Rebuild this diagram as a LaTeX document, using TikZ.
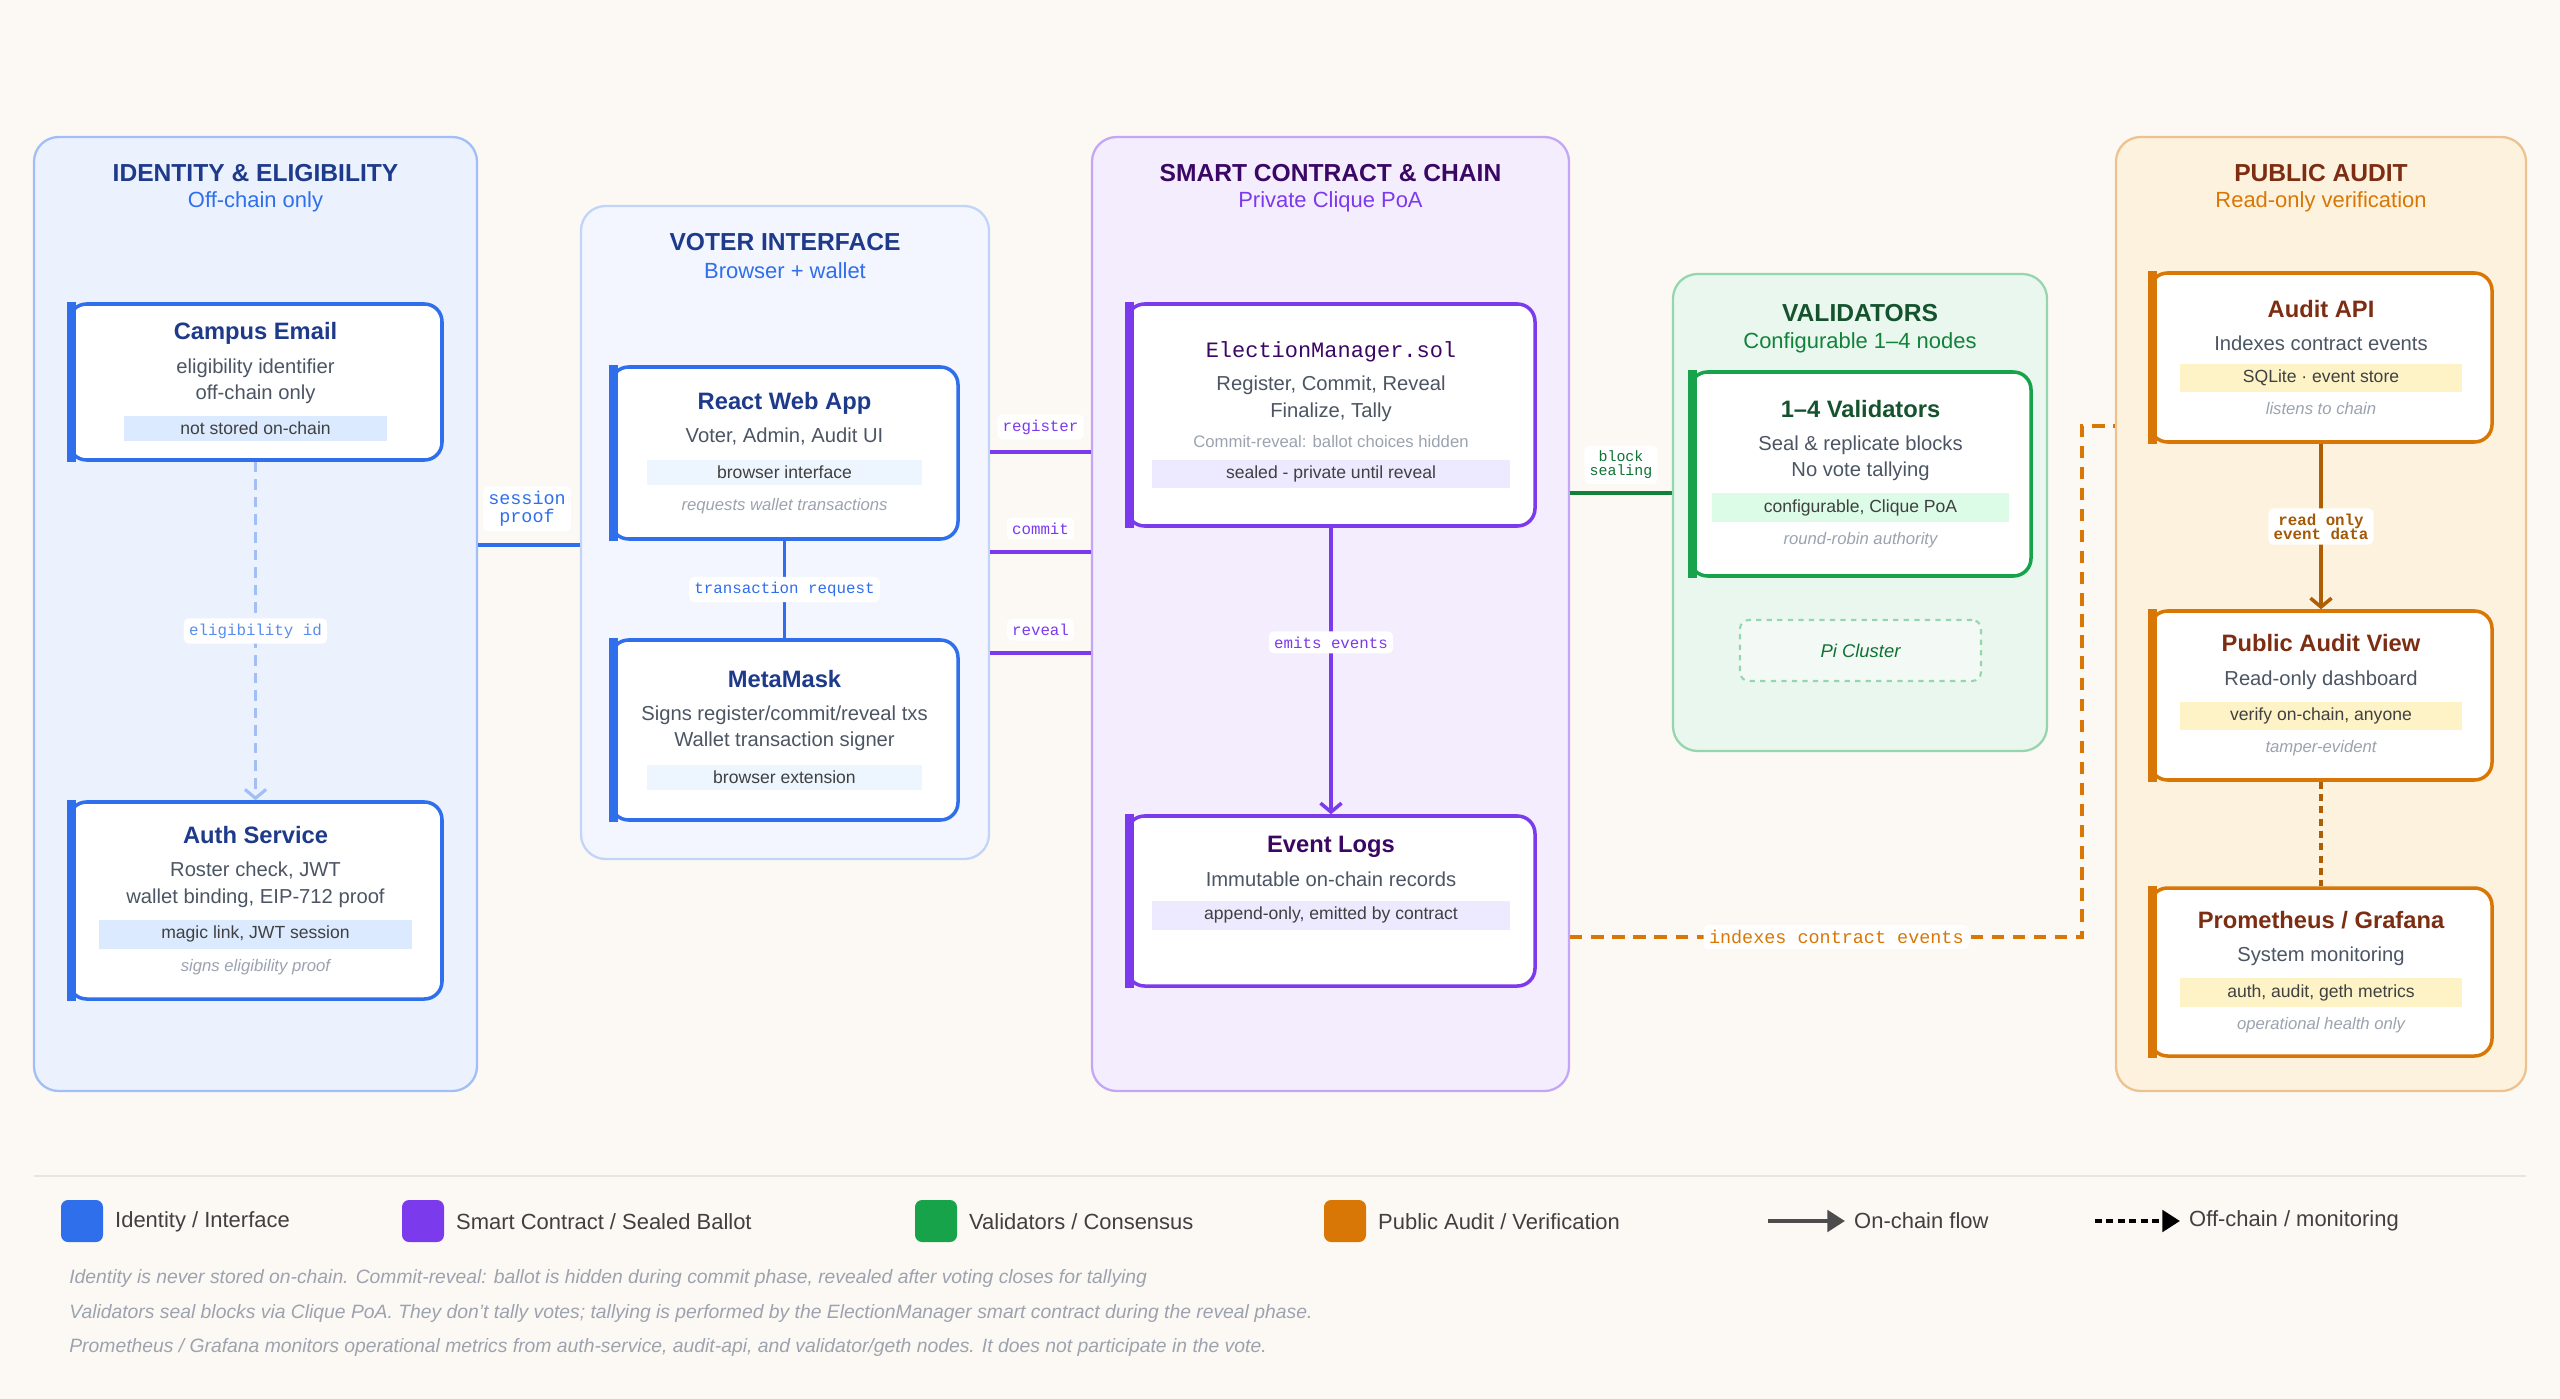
\documentclass[tikz,border=0pt]{standalone}
\usepackage{fontspec}
\setmainfont{Liberation Sans}
\setmonofont{Liberation Mono}
\usetikzlibrary{positioning, arrows.meta}
\definecolor{paper}{HTML}{FCF9F4}
\definecolor{bl}{HTML}{2F6FEB}\definecolor{blDark}{HTML}{1E3A8A}\definecolor{blTag}{HTML}{DBEAFE}
\definecolor{pu}{HTML}{7C3AED}\definecolor{puDark}{HTML}{3B0764}\definecolor{puTag}{HTML}{EDE9FE}
\definecolor{gr}{HTML}{16A34A}\definecolor{grDark}{HTML}{14532D}\definecolor{grTag}{HTML}{DCFCE7}
\definecolor{or}{HTML}{D97706}\definecolor{orDark}{HTML}{7C2D12}\definecolor{orTag}{HTML}{FEF3C7}
\definecolor{orFill}{HTML}{FDF2DE}
\definecolor{txt}{HTML}{4B5563}
\definecolor{note}{HTML}{9CA3AF}
% card content helpers (one line each)
\newcommand\ctitle[2]{{\color{#1}\fontsize{13.5}{16}\selectfont\bfseries #2}}
\newcommand\cbody[1]{{\color{txt}\fontsize{11.5}{15}\selectfont #1}}
\newcommand\ctag[3]{{\fboxsep=3.5pt\colorbox{#1}{\makebox[\dimexpr0.02cm*#2\relax]{\fontsize{10}{12}\selectfont\color{black!75}#3}}}}
\newcommand\cnote[1]{{\color{note}\itshape\fontsize{9.5}{12}\selectfont #1}}
\tikzset{
x=0.02cm, y=-0.02cm,
>={Straight Barb[length=5pt,width=12pt]},
group/.style={draw=#1!45, fill=#1!9, line width=1.3pt, rounded corners=14pt},
gtitle/.style={text=#1Dark, font=\fontsize{14}{17}\selectfont\bfseries},
gsub/.style={text=#1, font=\fontsize{12.5}{15}\selectfont},
card/.style={draw=#1, fill=white, line width=2pt, rounded corners=10pt, align=center, inner sep=0pt},
flow/.style={draw=#1, line width=2pt},
lbl/.style={fill=white, rounded corners=3pt, text=#1, font=\ttfamily\fontsize{9}{11}\selectfont, inner sep=3pt, align=center},
legtxt/.style={right, font=\fontsize{12.5}{15}\selectfont, text=black!75},
}
\begin{document}
\begin{tikzpicture}
\useasboundingbox[fill=paper] (0,0) rectangle (2560,1399);

% groups
\node[group=bl, minimum width=443*0.02cm, minimum height=954*0.02cm] (idg) at (255.5,614) {};
\node[group=bl, draw=bl!30, fill=bl!6, minimum width=408*0.02cm, minimum height=653*0.02cm] (vig) at (785,532.5) {};
\node[group=pu, minimum width=477*0.02cm, minimum height=954*0.02cm] (scg) at (1330.5,614) {};
\node[group=gr, minimum width=374*0.02cm, minimum height=477*0.02cm] (vdg) at (1860,512.5) {};
\node[group=or, fill=orFill, minimum width=410*0.02cm, minimum height=954*0.02cm] (pag) at (2321,614) {};

\node[gtitle=bl] (idgT) at (255.5,173) {IDENTITY \& ELIGIBILITY};
\node[gsub=bl] (idgS) at (255.5,202) {Off-chain only};
\node[gtitle=bl] (vigT) at (785,242) {VOTER INTERFACE};
\node[gsub=bl] (vigS) at (785,271) {Browser + wallet};
\node[gtitle=pu] (scgT) at (1330.5,173) {SMART CONTRACT \& CHAIN};
\node[gsub=pu] (scgS) at (1330.5,202) {Private Clique PoA};
\node[gtitle=gr] (vdgT) at (1860,313) {VALIDATORS};
\node[gsub=gr, text=gr!80!black] (vdgS) at (1860,343) {Configurable 1–4 nodes};
\node[gtitle=or] (pagT) at (2321,173) {PUBLIC AUDIT};
\node[gsub=or] (pagS) at (2321,202) {Read-only verification};

% cards
\node[card=bl, minimum width=373*0.02cm, minimum height=156*0.02cm] (campus) at (255.5,382)
  {\ctitle{blDark}{Campus Email}\\[7pt]\cbody{eligibility identifier}\\[3pt]\cbody{off-chain only}\\[6pt]\ctag{blTag}{250}{not stored on-chain}};
\node[card=bl, minimum width=373*0.02cm, minimum height=197*0.02cm] (auth) at (255.5,900.5)
  {\ctitle{blDark}{Auth Service}\\[7pt]\cbody{Roster check, JWT}\\[3pt]\cbody{wallet binding, EIP-712 proof}\\[6pt]\ctag{blTag}{300}{magic link, JWT session}\\[5pt]\cnote{signs eligibility proof}};
\node[card=bl, minimum width=347*0.02cm, minimum height=172*0.02cm] (react) at (784.5,453)
  {\ctitle{blDark}{React Web App}\\[7pt]\cbody{Voter, Admin, Audit UI}\\[7pt]\ctag{blTag!50}{262}{browser interface}\\[6pt]\cnote{requests wallet transactions}};
\node[card=bl, minimum width=347*0.02cm, minimum height=180*0.02cm] (metamask) at (784.5,730)
  {\ctitle{blDark}{MetaMask}\\[7pt]\cbody{Signs register/commit/reveal txs}\\[3pt]\cbody{Wallet transaction signer}\\[7pt]\ctag{blTag!50}{262}{browser extension}};
\node[card=pu, minimum width=408*0.02cm, minimum height=222*0.02cm] (em) at (1331,415)
  {{\color{puDark}\ttfamily\fontsize{12.5}{15}\selectfont ElectionManager.sol}\\[7pt]\cbody{Register, Commit, Reveal}\\[3pt]\cbody{Finalize, Tally}\\[5pt]{\color{note}\fontsize{9.5}{12}\selectfont Commit-reveal: ballot choices hidden}\\[6pt]\ctag{puTag}{345}{sealed - private until reveal}};
\node[card=pu, minimum width=408*0.02cm, minimum height=170*0.02cm] (logs) at (1331,901)
  {\ctitle{puDark}{Event Logs}\\[7pt]\cbody{Immutable on-chain records}\\[7pt]\ctag{puTag}{345}{append-only, emitted by contract}\\[14pt]\mbox{}};
\node[card=gr, minimum width=341*0.02cm, minimum height=204*0.02cm] (vals) at (1860.5,474)
  {\ctitle{grDark}{1–4 Validators}\\[7pt]\cbody{Seal \& replicate blocks}\\[3pt]\cbody{No vote tallying}\\[6pt]\ctag{grTag}{285}{configurable, Clique PoA}\\[5pt]\cnote{round-robin authority}};
\node[draw=gr!45, fill=gr!5, dashed, line width=1.2pt, rounded corners=5pt, minimum width=241*0.02cm, minimum height=61*0.02cm,
  text=gr!70!black, font=\itshape\fontsize{10.5}{12}\selectfont] (pi) at (1860.5,650.5) {Pi Cluster};
\node[card=or, minimum width=342*0.02cm, minimum height=169*0.02cm] (api) at (2321,357.5)
  {\ctitle{orDark}{Audit API}\\[7pt]\cbody{Indexes contract events}\\[6pt]\ctag{orTag}{270}{SQLite · event store}\\[5pt]\cnote{listens to chain}};
\node[card=or, minimum width=342*0.02cm, minimum height=169*0.02cm] (pav) at (2321,695.5)
  {\ctitle{orDark}{Public Audit View}\\[7pt]\cbody{Read-only dashboard}\\[6pt]\ctag{orTag}{270}{verify on-chain, anyone}\\[5pt]\cnote{tamper-evident}};
\node[card=or, minimum width=342*0.02cm, minimum height=168*0.02cm] (prom) at (2321,972)
  {\ctitle{orDark}{Prometheus / Grafana}\\[7pt]\cbody{System monitoring}\\[6pt]\ctag{orTag}{270}{auth, audit, geth metrics}\\[5pt]\cnote{operational health only}};

\foreach \n/\c in {campus/bl, auth/bl, react/bl, metamask/bl, em/pu, logs/pu, vals/gr, api/or, pav/or, prom/or}
  \draw[\c, line width=5pt] ([xshift=2.5pt]\n.north west) -- ([xshift=2.5pt]\n.south west);

% connectors
\draw[bl!45, line width=1.8pt, dash pattern=on 6pt off 4pt, ->] (campus) -- node[lbl=bl!80] {eligibility id} (auth);
\draw[flow=bl] (idg.east |- 0,545) -- (vig.west |- 0,545);
\node[lbl=bl, font=\ttfamily\fontsize{10.5}{12}\selectfont] (sessionL) at (527,509) {session\\[-2pt]proof};
\draw[flow=bl] (react) -- node[lbl=bl] {transaction request} (metamask);
\foreach \y/\t in {452/register, 552/commit, 653/reveal}
  \draw[flow=pu] (vig.east |- 0,\y) -- node[lbl=pu, above=6pt] {\t} (scg.west |- 0,\y);
\draw[flow=gr!80!black] (scg.east |- 0,493) -- node[lbl=gr!70!black, above=4pt, font=\ttfamily\fontsize{8.5}{10}\selectfont] {block\\[-2pt]sealing} (vdg.west |- 0,493);
\draw[flow=pu, ->] (em) -- node[lbl=pu, pos=0.4] {emits events} (logs);
\coordinate (ixc) at (2082,426);
\draw[or, line width=2pt, dash pattern=on 7pt off 5pt] (scg.east |- 0,937) -- node[lbl=or, pos=0.52, font=\ttfamily\fontsize{10.5}{12}\selectfont] {indexes contract events} (ixc |- 0,937) -- (ixc) -- (pag.west |- ixc);
\draw[flow=or!80!black, ->] (api) -- node[lbl=or!75!black, font=\ttfamily\bfseries\fontsize{9}{10}\selectfont] {read only\\[-2pt]event data} (pav);
\draw[or!80!black, line width=2pt, dash pattern=on 4pt off 3pt] (pav) -- (prom);

% legend
\draw[black!10, line width=1.5pt] (34,1176) -- (2526,1176);
\foreach \x/\c/\t [count=\i] in {82/bl/{Identity / Interface}, 423/pu/{Smart Contract / Sealed Ballot}, 936/gr/{Validators / Consensus}, 1345/or/{Public Audit / Verification}}{
  \fill[\c, rounded corners=4pt] (\x-21,1200) rectangle (\x+21,1242);
  \node[legtxt] (leg\i) at (\x+27,1222) {\t};
}
\coordinate (onA) at (1768,1221); \coordinate (onB) at (1845,1221);
\draw[black!70, line width=2.5pt, -{Triangle[length=10pt,width=12pt]}] (onA) -- (onB);
\node[legtxt] (legOn) at (1848,1221) {On-chain flow};
\coordinate (offA) at (2095,1221); \coordinate (offB) at (2180,1221);
\draw[black, line width=2.5pt, dash pattern=on 4pt off 2.5pt, -{Triangle[length=10pt,width=12pt]}] (offA) -- (offB);
\node[legtxt] (legOff) at (2183,1221) {Off-chain / monitoring};

\foreach \y/\t [count=\i] in {1278/{Identity is never stored on-chain. Commit-reveal: ballot is hidden during commit phase, revealed after voting closes for tallying},
  1313/{Validators seal blocks via Clique PoA. They don't tally votes; tallying is performed by the ElectionManager smart contract during the reveal phase.},
  1347/{Prometheus / Grafana monitors operational metrics from auth-service, audit-api, and validator/geth nodes. It does not participate in the vote.}}
  \node[right, inner sep=0pt, text=note, font=\itshape\fontsize{11}{13}\selectfont] (foot\i) at (69,\y) {\t};
\end{tikzpicture}
\end{document}
